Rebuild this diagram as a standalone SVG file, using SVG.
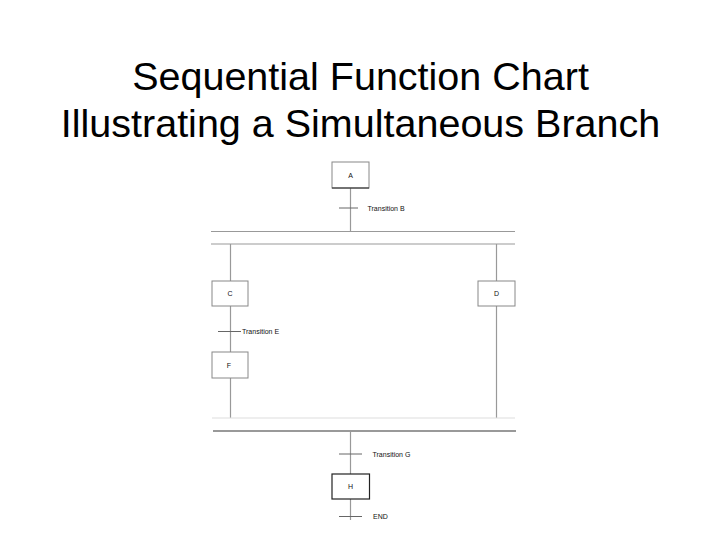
<svg xmlns="http://www.w3.org/2000/svg" width="720" height="540" viewBox="0 0 720 540">
<style>
.title{font-family:"Liberation Sans",Arial,sans-serif;font-size:39.5px;fill:#000;text-anchor:middle}
.lbl{font-family:"Liberation Sans",Arial,sans-serif;font-size:7px;fill:#111}
.step{fill:#fff;stroke:#888;stroke-width:1}
.sl{font-family:"Liberation Sans",Arial,sans-serif;font-size:7px;fill:#111;text-anchor:middle}
.ln{stroke:#999;stroke-width:1.2;fill:none}
.tk{stroke:#666;stroke-width:1;fill:none}
</style>
<rect width="720" height="540" fill="#fff"/>
<text class="title" x="360.5" y="90">Sequential Function Chart</text>
<text class="title" x="360.5" y="137">Illustrating a Simultaneous Branch</text>
<g id="connectors">
<line class="ln" x1="350.5" y1="188" x2="350.5" y2="231"/>
<line class="ln" x1="211" y1="231.5" x2="515" y2="231.5"/>
<line class="ln" x1="211" y1="244" x2="515" y2="244"/>
<line class="ln" x1="230.5" y1="244" x2="230.5" y2="281"/>
<line class="ln" x1="496.5" y1="244" x2="496.5" y2="281"/>
<line class="ln" x1="230.5" y1="306" x2="230.5" y2="352"/>
<line class="ln" x1="230.5" y1="378" x2="230.5" y2="418"/>
<line class="ln" x1="496.5" y1="306" x2="496.5" y2="418"/>
<line x1="212" y1="418" x2="515" y2="418" stroke="#ddd" stroke-width="1.2"/>
<line x1="213" y1="431" x2="516" y2="431" stroke="#999" stroke-width="2"/>
<line class="ln" x1="350.5" y1="431" x2="350.5" y2="474"/>
<line class="ln" x1="350.5" y1="499" x2="350.5" y2="520"/>
<line class="tk" x1="339" y1="208" x2="358" y2="208"/>
<line class="tk" x1="218" y1="331.5" x2="241" y2="331.5"/>
<line class="tk" x1="339" y1="454" x2="362" y2="454"/>
<line class="tk" x1="339" y1="516.5" x2="362" y2="516.5"/>
</g>
<g id="tB"><text class="lbl" x="367.5" y="210.5">Transition B</text></g>
<g id="tE"><text class="lbl" x="242" y="334">Transition E</text></g>
<g id="tG"><text class="lbl" x="372.5" y="456.5">Transition G</text></g>
<g id="tEnd"><text class="lbl" x="373" y="519">END</text></g>
<g id="A"><rect class="step" x="332" y="162" width="37" height="26"/><line x1="332" y1="188" x2="369" y2="188" stroke="#222" stroke-width="1.2"/><text class="sl" x="350.5" y="178">A</text></g>
<g id="C"><rect class="step" x="212" y="281" width="36" height="25"/><text class="sl" x="230" y="296">C</text></g>
<g id="D"><rect class="step" x="478" y="281" width="37" height="25"/><text class="sl" x="496.5" y="296">D</text></g>
<g id="F"><rect class="step" x="212" y="352" width="36" height="26"/><text class="sl" x="229" y="367.5">F</text></g>
<g id="H"><rect x="332" y="474" width="37.5" height="25" fill="#fff" stroke="#222" stroke-width="1.2"/><text class="sl" x="350.5" y="489">H</text></g>
</svg>
